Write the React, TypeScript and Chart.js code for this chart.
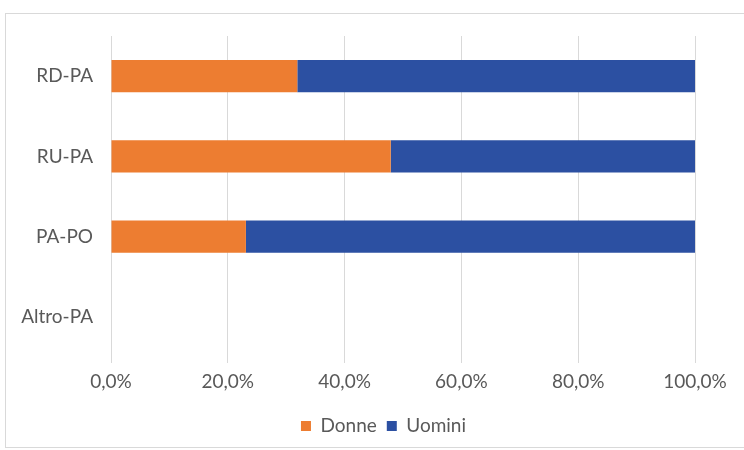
import React, { useEffect, useRef } from "react";
import { Chart, registerables } from "chart.js";

Chart.register(...registerables);

const categories = ["RD-PA", "RU-PA", "PA-PO", "Altro-PA"];
const donne = [31.9, 47.9, 23.1, 0];
const uomini = [68.1, 52.1, 76.9, 0];
const xTicks = [0, 20, 40, 60, 80, 100];

const FONT = "Lato, 'Open Sans', sans-serif";
const TEXT = "#595959";

const legendShift = {
  id: "legendShift",
  afterLayout(chart: any) {
    const lg = chart.legend;
    if (!lg) return;
    const target = 383.5;
    const center = lg.left + lg.width / 2;
    const d = target - center;
    lg.left += d;
    lg.right += d;
  },
};

export default function App() {
  const ref = useRef<HTMLCanvasElement | null>(null);

  useEffect(() => {
    if (!ref.current) return;
    const chart = new Chart(ref.current, {
      type: "bar",
      data: {
        labels: categories,
        datasets: [
          {
            label: "Donne",
            data: donne,
            backgroundColor: "#ED7D31",
            categoryPercentage: 0.4,
            barPercentage: 1,
          },
          {
            label: "Uomini",
            data: uomini,
            backgroundColor: "#2C50A2",
            categoryPercentage: 0.4,
            barPercentage: 1,
          },
        ],
      },
      options: {
        indexAxis: "y",
        animation: false,
        responsive: false,
        maintainAspectRatio: false,
        layout: { padding: { left: 0, right: 49, top: 36, bottom: 4.5 } },
        scales: {
          x: {
            stacked: true,
            min: 0,
            max: 100,
            afterBuildTicks: (scale: any) => {
              scale.ticks = xTicks.map((v) => ({ value: v }));
            },
            afterFit: (scale: any) => {
              scale.height = 49.5;
            },
            grid: { color: "#D9D9D9", lineWidth: 1, drawTicks: true, tickLength: 6, tickColor: "#D9D9D9" },
            border: { display: false },
            ticks: {
              padding: 7.5,
              color: TEXT,
              font: { family: FONT, size: 19 },
              callback: (v: any) => Number(v).toFixed(1).replace(".", ",") + "%",
            },
          },
          y: {
            stacked: true,
            afterFit: (scale: any) => {
              scale.width = 111;
            },
            grid: { display: false, drawTicks: false },
            border: { display: false },
            ticks: {
              padding: 18,
              color: TEXT,
              font: { family: FONT, size: 19 },
            },
          },
        },
        plugins: {
          legend: {
            position: "bottom",
            labels: {
              boxWidth: 10,
              boxHeight: 10,
              padding: 10,
              color: TEXT,
              font: { family: FONT, size: 19 },
            },
          },
          tooltip: { enabled: false },
        },
      },
      plugins: [legendShift],
    });
    return () => chart.destroy();
  }, []);

  return (
    <div style={{ position: "fixed", left: 0, top: 0, width: 744, height: 450, background: "#fff" }}>
      <div
        style={{
          position: "absolute",
          left: 5,
          top: 13,
          width: 760,
          height: 433,
          border: "1px solid #D9D9D9",
        }}
      />
      <canvas ref={ref} width={744} height={450} style={{ position: "absolute", left: 0, top: 0 }} />
    </div>
  );
}
